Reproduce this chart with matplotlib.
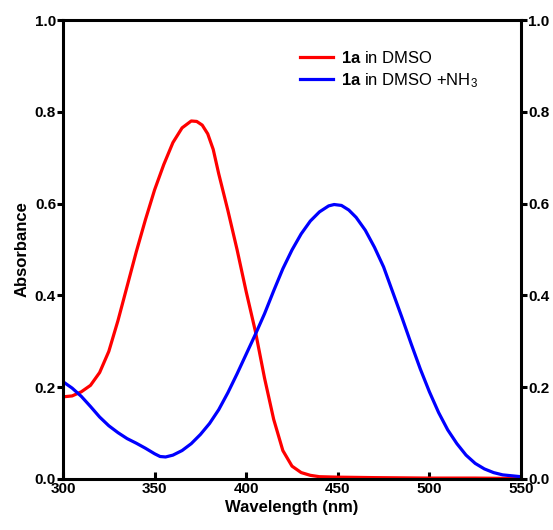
import matplotlib
matplotlib.use("Agg")
import matplotlib.pyplot as plt

plt.rcParams['font.family'] = ['Liberation Sans', 'DejaVu Sans']
plt.rcParams['mathtext.fontset'] = 'custom'
plt.rcParams['mathtext.rm'] = 'Liberation Sans'
plt.rcParams['mathtext.bf'] = 'Liberation Sans:bold'
plt.rcParams['mathtext.it'] = 'Liberation Sans:italic'

# Data
wl_red = [300, 305, 310, 315, 320, 325, 330, 335, 340, 345, 350, 355, 360, 365, 370, 373, 376,
          379, 382, 385, 390, 395, 400, 405, 410, 415, 420, 425, 430, 435, 440, 450, 470, 500,
          525, 550]
abs_red = [0.179, 0.181, 0.19, 0.204, 0.232, 0.278, 0.345, 0.42, 0.495, 0.565, 0.63, 0.685,
           0.733, 0.765, 0.780, 0.779, 0.771, 0.752, 0.718, 0.665, 0.585, 0.50, 0.408, 0.322,
           0.22, 0.13, 0.062, 0.028, 0.014, 0.008, 0.005, 0.004, 0.003, 0.002, 0.002, 0.001]

wl_blue = [300, 305, 310, 315, 320, 325, 330, 335, 340, 345, 350, 353, 356, 360, 365, 370, 375,
           380, 385, 390, 395, 400, 405, 410, 415, 420, 425, 430, 435, 440, 445, 448, 452, 456,
           460, 465, 470, 475, 480, 485, 490, 495, 500, 505, 510, 515, 520, 525, 530, 535, 540,
           545, 550]
abs_blue = [0.212, 0.198, 0.18, 0.158, 0.135, 0.116, 0.101, 0.088, 0.078, 0.067, 0.055, 0.049,
            0.048, 0.052, 0.062, 0.077, 0.097, 0.121, 0.151, 0.188, 0.229, 0.272, 0.315, 0.36,
            0.41, 0.458, 0.499, 0.534, 0.562, 0.582, 0.595, 0.598, 0.596, 0.586, 0.57, 0.542,
            0.505, 0.462, 0.407, 0.352, 0.295, 0.24, 0.19, 0.145, 0.107, 0.077, 0.052, 0.034,
            0.022, 0.014, 0.009, 0.007, 0.005]

x_ticks = [300, 350, 400, 450, 500, 550]
y_ticks = [0.0, 0.2, 0.4, 0.6, 0.8, 1.0]
labels = [r"$\mathbf{1a}$ in DMSO", r"$\mathbf{1a}$ in DMSO +NH$_3$"]

fig = plt.figure(figsize=(5.53, 5.30), dpi=100)
ax = fig.add_axes([63/553, 1-479/530, (521-63)/553, (479-20)/530])

ax.plot(wl_red, abs_red, color='#ff0000', lw=2.3, label=labels[0],
        solid_joinstyle='round')
ax.plot(wl_blue, abs_blue, color='#0000ff', lw=2.3, label=labels[1],
        solid_joinstyle='round')

ax.set_xlim(300, 550)
ax.set_ylim(0, 1.0)
ax.set_xticks(x_ticks)
ax.set_yticks(y_ticks)
ax.set_xticklabels([str(t) for t in x_ticks])
ax.set_yticklabels([f"{t:.1f}" for t in y_ticks])

for s in ax.spines.values():
    s.set_linewidth(2.2)

ax.tick_params(axis='x', direction='in', length=5, width=2.2, pad=2,
               labelsize=11)
ax.tick_params(axis='y', direction='out', length=4, width=2.2, pad=1,
               labelsize=11, right=True, labelright=True)
for lab in ax.get_xticklabels() + ax.get_yticklabels():
    lab.set_fontweight('bold')

ax.set_xlabel("Wavelength (nm)", fontsize=12, fontweight='bold', labelpad=3)
ax.set_ylabel("Absorbance", fontsize=12, fontweight='bold', labelpad=4)

leg = ax.legend(loc='upper left', bbox_to_anchor=(0.517, 0.935), frameon=False,
                fontsize=12, handlelength=2.0, handletextpad=0.45, labelspacing=0.3,
                borderpad=0, borderaxespad=0)
for line in leg.get_lines():
    line.set_linewidth(2.3)

fig.savefig("out.png", dpi=100)
